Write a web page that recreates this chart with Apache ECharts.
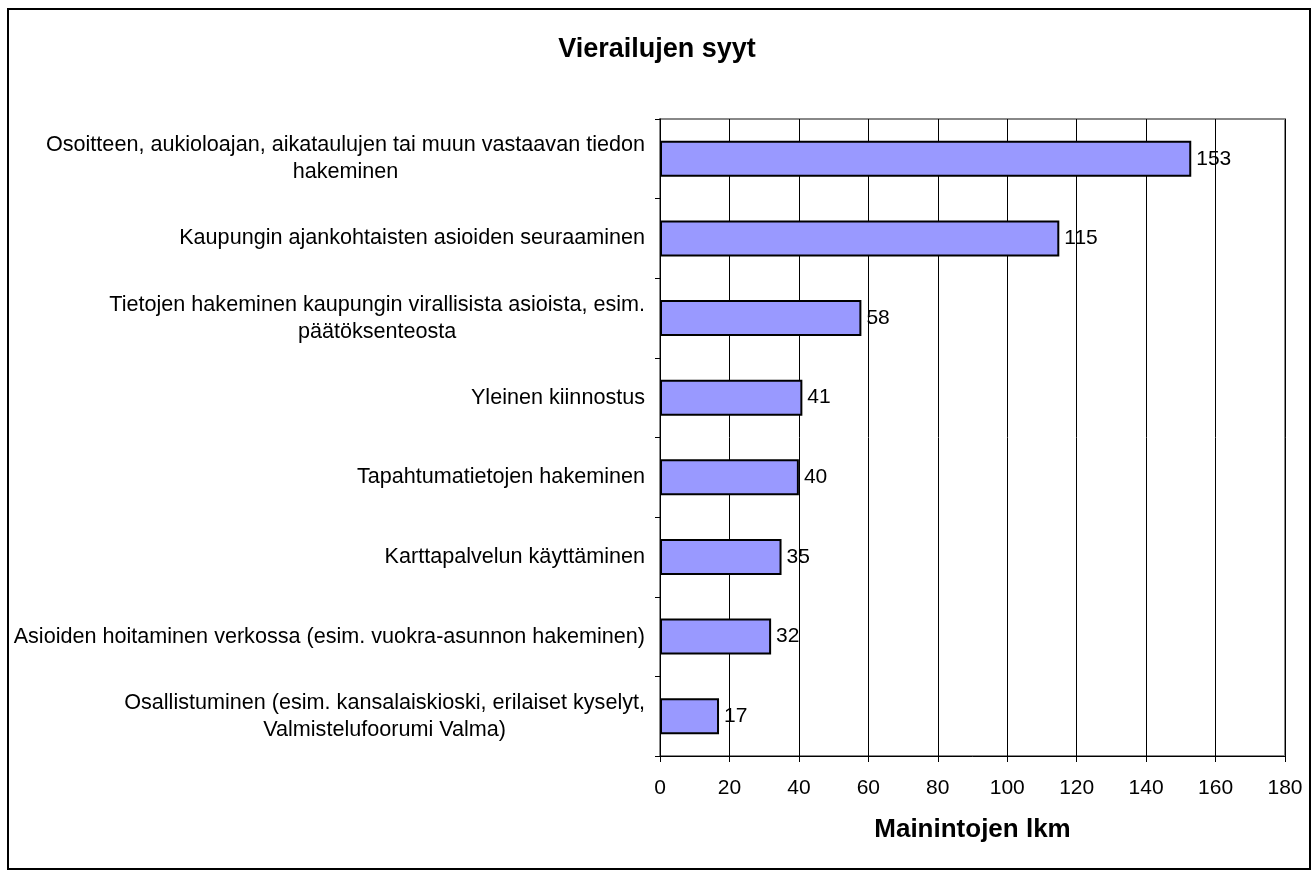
<!DOCTYPE html>
<html>
<head>
<meta charset="utf-8">
<script src="https://cdn.jsdelivr.net/npm/echarts@6/dist/echarts.min.js"></script>
<style>
  html, body { margin: 0; padding: 0; background: #fff; }
  #chart { width: 1314px; height: 872px; }
</style>
</head>
<body>
<div id="chart"></div>
<script>
// syyt ylhäältä alas
var categories = [
    'Osoitteen, aukioloajan, aikataulujen tai muun vastaavan tiedon\nhakeminen',
    'Kaupungin ajankohtaisten asioiden seuraaminen',
    'Tietojen hakeminen kaupungin virallisista asioista, esim.\npäätöksenteosta',
    'Yleinen kiinnostus',
    'Tapahtumatietojen hakeminen',
    'Karttapalvelun käyttäminen',
    'Asioiden hoitaminen verkossa (esim. vuokra-asunnon hakeminen)',
    'Osallistuminen (esim. kansalaiskioski, erilaiset kyselyt,\nValmistelufoorumi Valma)'
];
var mentions = [153, 115, 58, 41, 40, 35, 32, 17];

var titleText = 'Vierailujen syyt';
var xAxisName = 'Mainintojen lkm';

var FONT = 'Liberation Sans, Arial, sans-serif';

var myChart = echarts.init(document.getElementById('chart'));

option = {
    backgroundColor: '#fff',
    animation: false,
    title: {
        text: titleText,
        left: 'center',
        top: 31,
        textStyle: {
            fontFamily: FONT,
            fontSize: 27,
            fontWeight: 'bold',
            color: '#000'
        }
    },
    graphic: [
        {
            type: 'rect',
            shape: { x: 8, y: 9, width: 1302, height: 860 },
            style: { fill: 'none', stroke: '#000', lineWidth: 2 },
            silent: true,
            z: -1
        }
    ],
    grid: {
        left: 660,
        right: 29,
        top: 119,
        bottom: 116,
        show: true,
        borderColor: '#888',
        borderWidth: 2
    },
    xAxis: {
        type: 'value',
        min: 0,
        max: 180,
        interval: 20,
        name: xAxisName,
        nameLocation: 'middle',
        nameGap: 61,
        nameTextStyle: {
            fontFamily: FONT,
            fontSize: 26,
            fontWeight: 'bold',
            color: '#000'
        },
        axisLine: { show: true, lineStyle: { color: '#000', width: 1 } },
        axisTick: { show: true, length: 6, lineStyle: { color: '#000' } },
        axisLabel: {
            margin: 22,
            fontFamily: FONT,
            fontSize: 21,
            color: '#000'
        },
        splitLine: { show: true, lineStyle: { color: '#000', width: 1 } }
    },
    yAxis: {
        type: 'category',
        data: categories,
        inverse: true,
        axisLine: { show: true, lineStyle: { color: '#000', width: 1 } },
        axisTick: { show: true, length: 5, lineStyle: { color: '#000' } },
        axisLabel: {
            margin: 15,
            align: 'right',
            formatter: function (v) {
                return v.split('\n').map(function (s) { return '{c|' + s + '}'; }).join('\n');
            },
            rich: {
                c: {
                    align: 'center',
                    fontFamily: FONT,
                    fontSize: 21.6,
                    lineHeight: 27,
                    color: '#000'
                }
            }
        }
    },
    series: [
        {
            type: 'bar',
            data: mentions,
            barWidth: 36,
            itemStyle: {
                color: '#9999FF',
                borderColor: '#000',
                borderWidth: 2
            },
            label: {
                show: true,
                position: 'right',
                distance: 5,
                fontFamily: FONT,
                fontSize: 21,
                color: '#000'
            }
        }
    ]
};
myChart.setOption(option);
</script>
</body>
</html>
